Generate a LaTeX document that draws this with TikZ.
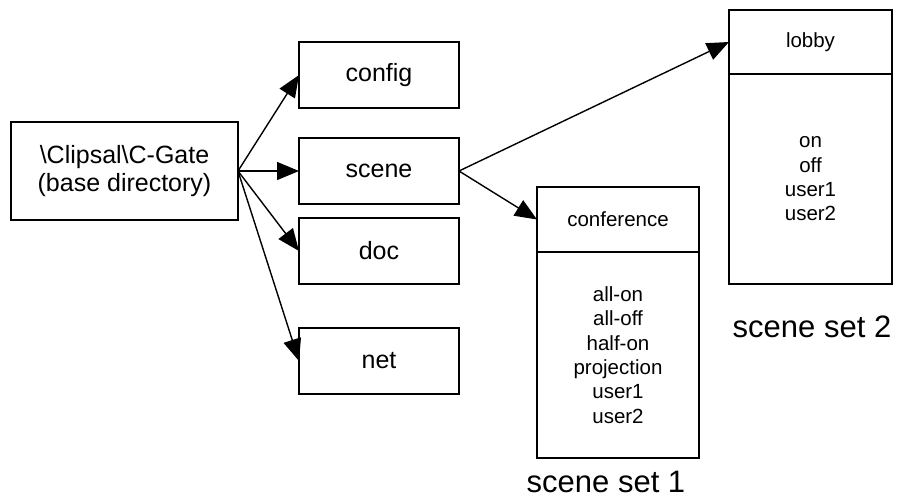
\documentclass[tikz,border=0pt]{standalone}
\usepackage{fontspec}
\setmainfont{Liberation Sans}
\usetikzlibrary{arrows.meta,positioning}
\begin{document}
\begin{tikzpicture}[%
      x=1pt, y=-1pt,
      every node/.style={inner sep=0pt, outer sep=0pt, line width=1.4pt,
                         font={\fontsize{25}{28}\selectfont}},
      dir/.style={draw, minimum width=160pt, minimum height=66pt},
      set head/.style={draw, minimum width=163pt, minimum height=65pt,
                       font={\fontsize{20.5}{24.3}\selectfont}},
      set body/.style={draw, minimum width=163pt, align=center,
                       font={\fontsize{20.5}{24.3}\selectfont}},
      caption/.style={font={\fontsize{31}{36}\selectfont}},
      link/.style={line width=1.4pt, -{Triangle[length=22pt,width=18pt]}}
    ]
    \useasboundingbox (0,0) rectangle (898,499);
    \node [dir, minimum width=227pt, minimum height=98pt, align=center]
      (G root) at (124.5,171) {\textbackslash Clipsal\textbackslash C-Gate\\(base directory)};
    \node [dir] (G config) at (379,75)  {config};
    \node [dir] (G scene)  at (379,171) {scene};
    \node [dir] (G doc)    at (379,251) {doc};
    \node [dir] (G net)    at (379,361) {net};
    % scene sets
    \node [set head, minimum width=162pt] (S1 head) at (618,219.5) {conference};
    \node [set body, minimum width=162pt, minimum height=206pt, below=0pt of S1 head]
      (S1 body) {all-on\\all-off\\half-on\\projection\\user1\\user2};
    \node [caption] (S1 label) at (606,482) {scene set 1};
    \node [set head, minimum height=64pt] (S2 head) at (810.5,42) {lobby};
    \node [set body, minimum height=210pt, below=0pt of S2 head]
      (S2 body) {on\\off\\user1\\user2};
    \node [caption] (S2 label) at (812,327) {scene set 2};
    % links
    \draw [link] (G root.east) -- (G config.west);
    \draw [link] (G root.east) -- (G scene.west);
    \draw [link] (G root.east) -- (G doc.west);
    \draw [link] (G root.east) -- (G net.west);
    \draw [link] (G scene.east) -- (S2 head.west);
    \draw [link] (G scene.east) -- (S1 head.west);
   \end{tikzpicture}
\end{document}
